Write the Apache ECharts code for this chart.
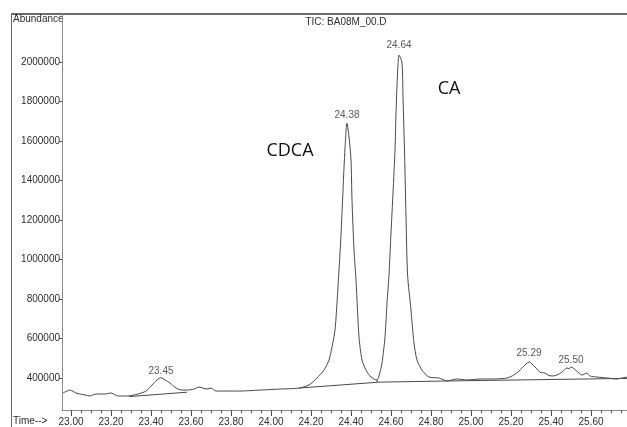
<!DOCTYPE html>
<html>
<head>
<meta charset="utf-8">
<title>TIC: BA08M_00.D</title>
<script src="https://cdn.jsdelivr.net/npm/echarts@6/dist/echarts.min.js"></script>
<style>
  html, body { margin: 0; padding: 0; background: #ffffff; }
  #chart { width: 627px; height: 427px; }
</style>
</head>
<body>
<div id="chart"></div>
<script>
// Total ion chromatogram: retention time (min) vs abundance
const times = [
  22.96, 22.995, 23.025, 23.07, 23.095, 23.125, 23.17, 23.20, 23.235, 23.285,
  23.335, 23.375, 23.405, 23.43, 23.45, 23.47, 23.495, 23.525, 23.555, 23.585,
  23.615, 23.64, 23.66, 23.68, 23.70, 23.725, 23.77, 23.845, 23.945, 24.045,
  24.14, 24.19, 24.23, 24.265, 24.29, 24.305, 24.32, 24.33, 24.34, 24.35,
  24.36, 24.37, 24.38, 24.39, 24.40, 24.405, 24.415, 24.425, 24.43, 24.44,
  24.455, 24.475, 24.50, 24.53, 24.54, 24.555, 24.57, 24.58, 24.59, 24.60,
  24.61, 24.62, 24.625, 24.63, 24.635, 24.64, 24.655, 24.66, 24.668, 24.675,
  24.683, 24.70, 24.715, 24.73, 24.755, 24.79, 24.84, 24.88, 24.93, 24.98,
  25.045, 25.12, 25.18, 25.205, 25.235, 25.26, 25.29, 25.32, 25.345, 25.37,
  25.385, 25.405, 25.43, 25.455, 25.48, 25.49, 25.50, 25.535, 25.555, 25.58,
  25.595, 25.63, 25.68, 25.73, 25.755, 25.78
];
const abundance = [
  324000, 339000, 324000, 314000, 309000, 319000, 319000, 324000, 309000, 309000,
  319000, 334000, 364000, 390000, 402000, 390000, 375000, 349000, 339000, 339000,
  344000, 354000, 349000, 344000, 349000, 334000, 334000, 334000, 339000, 344000,
  349000, 365000, 400000, 440000, 491000, 557000, 643000, 780000, 947000, 1124000,
  1352000, 1564000, 1691000, 1620000, 1504000, 1301000, 1048000, 896000, 795000, 608000,
  491000, 440000, 405000, 390000, 410000, 476000, 608000, 780000, 921000, 1134000,
  1337000, 1554000, 1742000, 1883000, 1985000, 2035000, 1995000, 1823000, 1529000, 1215000,
  921000, 744000, 577000, 491000, 440000, 405000, 400000, 385000, 395000, 390000,
  395000, 395000, 400000, 410000, 430000, 456000, 481000, 456000, 430000, 425000,
  415000, 410000, 415000, 430000, 451000, 446000, 456000, 430000, 415000, 425000,
  410000, 405000, 400000, 395000, 400000, 405000
];

// Integration baselines drawn under the peaks
const baseA_times = [23.29, 23.58];
const baseA_values = [306000, 328000];
const baseB_times = [24.14, 24.54, 24.88, 25.78];
const baseB_values = [349000, 379000, 385000, 398000];
// Split marker between the two large peaks
const splitTimes = [24.53, 24.53];
const splitValues = [379000, 390000];

// Integrated peak apexes (retention times printed above them)
const peakTimes = [23.45, 24.38, 24.64, 25.29, 25.50];
const peakLabelGap = [1, 3, 5, 4, 2];

// Compound annotations
const compoundNames = ['CDCA', 'CA'];

// Axis tick labels
const xTickLabels = ['23.00', '23.20', '23.40', '23.60', '23.80', '24.00', '24.20',
  '24.40', '24.60', '24.80', '25.00', '25.20', '25.40', '25.60'];
const yTickLabels = ['400000', '600000', '800000', '1000000', '1200000', '1400000',
  '1600000', '1800000', '2000000'];

const xMajor = xTickLabels.map(Number);
const xMinor = [];
for (let k = 0; k <= 56; k++) {
  xMinor.push(Math.round((22.95 + k * 0.05) * 1000) / 1000);
}
const yMajor = yTickLabels.map(Number);

const pair = (ts, vs) => ts.map((t, i) => [t, vs[i]]);

const textColor = '#2e2e2e';
const lineColor = '#4a4a4a';
const axisFont = 'Liberation Sans, Arial, sans-serif';

const chart = echarts.init(document.getElementById('chart'), null, { renderer: 'canvas' });

chart.setOption({
  animation: false,
  backgroundColor: '#ffffff',
  grid: { left: 62, top: 14, right: 0, bottom: 17, containLabel: false },
  xAxis: [
    {
      type: 'value', min: 22.955, max: 25.78, position: 'bottom',
      axisLine: { show: true, lineStyle: { color: '#8a8a8a', width: 1 } },
      axisTick: { show: true, customValues: xMajor, length: 6, lineStyle: { color: '#444', width: 1 } },
      axisLabel: {
        customValues: xMajor, formatter: v => v.toFixed(2),
        fontSize: 10, fontFamily: axisFont, color: textColor, margin: 7
      },
      splitLine: { show: false }
    },
    {
      type: 'value', min: 22.955, max: 25.78, position: 'bottom',
      axisLine: { show: false },
      axisTick: { show: true, customValues: xMinor, length: 3, lineStyle: { color: '#555', width: 1 } },
      axisLabel: { show: false },
      splitLine: { show: false }
    }
  ],
  yAxis: {
    type: 'value', min: 238000, max: 2243000,
    axisLine: { show: true, lineStyle: { color: '#8a8a8a', width: 1 } },
    axisTick: { show: true, customValues: yMajor, length: 3, lineStyle: { color: '#555', width: 1 } },
    axisLabel: {
      customValues: yMajor, fontSize: 10, fontFamily: axisFont, color: textColor, margin: 2,
      formatter: v => String(v)
    },
    splitLine: { show: false }
  },
  series: [
    {
      name: 'TIC', type: 'line', xAxisIndex: 0,
      data: pair(times, abundance),
      showSymbol: false, symbol: 'none', smooth: 0.25,
      lineStyle: { color: lineColor, width: 1 }
    },
    {
      name: 'baseline 1', type: 'line', xAxisIndex: 0,
      data: pair(baseA_times, baseA_values),
      symbol: 'none', lineStyle: { color: lineColor, width: 1 }
    },
    {
      name: 'baseline 2', type: 'line', xAxisIndex: 0,
      data: pair(baseB_times, baseB_values),
      symbol: 'none', lineStyle: { color: lineColor, width: 1 }
    },
    {
      name: 'split', type: 'line', xAxisIndex: 0,
      data: pair(splitTimes, splitValues),
      symbol: 'none', lineStyle: { color: lineColor, width: 1 }
    },
    {
      name: 'apex', type: 'scatter', xAxisIndex: 0,
      symbolSize: 0,
      data: peakTimes.map((t, i) => ({
        value: [t, abundance[times.indexOf(t)]],
        label: { distance: peakLabelGap[i] }
      })),
      label: {
        show: true, position: 'top',
        formatter: p => p.value[0].toFixed(2),
        fontSize: 10, fontFamily: axisFont, color: textColor
      },
      silent: true
    }
  ],
  graphic: [
    // outer frame
    { type: 'line', shape: { x1: 11, y1: 14, x2: 627, y2: 14 }, style: { stroke: '#3a3a3a', lineWidth: 1.5 } },
    { type: 'line', shape: { x1: 11.5, y1: 14, x2: 11.5, y2: 427 }, style: { stroke: '#6a6a6a', lineWidth: 1 } },
    {
      type: 'text', x: 13, y: 19,
      style: { text: 'Abundance', font: '10px Liberation Sans', fill: textColor, align: 'left', verticalAlign: 'middle' }
    },
    {
      type: 'text', x: 346, y: 22,
      style: { text: 'TIC: BA08M_00.D', font: '10px Liberation Sans', fill: textColor, align: 'center', verticalAlign: 'middle' }
    },
    {
      type: 'text', x: 13, y: 421,
      style: { text: 'Time-->', font: '10px Liberation Sans', fill: textColor, align: 'left', verticalAlign: 'middle' }
    },
    {
      type: 'text', x: 290, y: 151,
      style: { text: compoundNames[0], font: '18px Open Sans', fill: '#111', align: 'center', verticalAlign: 'middle' }
    },
    {
      type: 'text', x: 449, y: 89,
      style: { text: compoundNames[1], font: '18px Open Sans', fill: '#111', align: 'center', verticalAlign: 'middle' }
    }
  ]
});
</script>
</body>
</html>
